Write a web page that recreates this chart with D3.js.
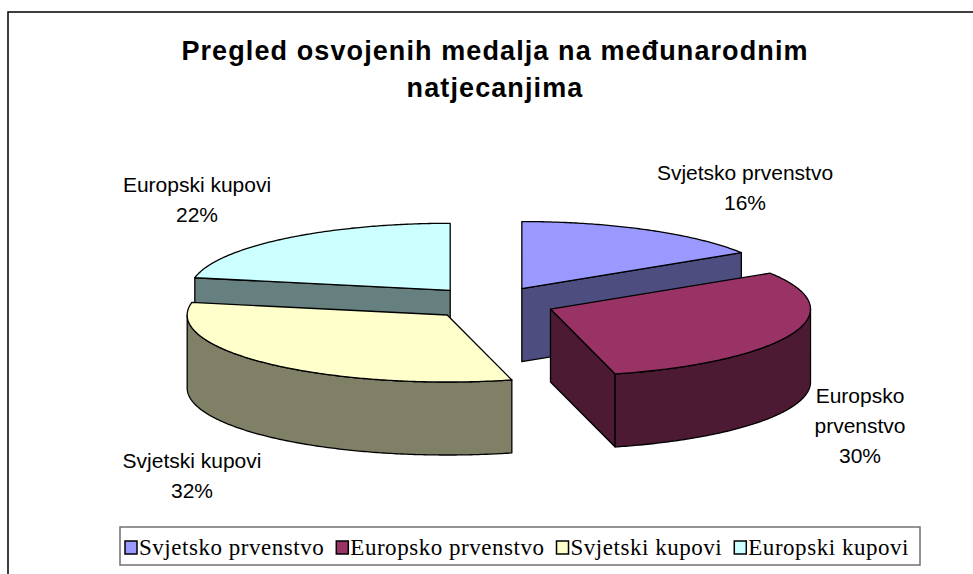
<!DOCTYPE html>
<html>
<head>
<meta charset="utf-8">
<script src="https://cdn.jsdelivr.net/npm/d3@7"></script>
<style>
  body { margin: 0; background: #fff; }
  svg { display: block; }
</style>
</head>
<body>
<div id="chart"></div>
<script>
// data
const categories = ["Svjetsko prvenstvo", "Europsko prvenstvo", "Svjetski kupovi", "Europski kupovi"];
const values = [16, 30, 32, 22];
const topColors = ["#9999FF", "#993366", "#FFFFCC", "#CCFFFF"];
const sideColors = ["#4D4D80", "#4D1A33", "#808066", "#668080"];
const titleLines = ["Pregled osvojenih medalja na međunarodnim", "natjecanjima"];
const labelLines = [["Svjetsko prvenstvo"], ["Europsko", "prvenstvo"], ["Svjetski kupovi"], ["Europski kupovi"]];

const width = 973, height = 574;
const sans = "'Liberation Sans', Arial, sans-serif";
const serif = "'Liberation Serif', 'Times New Roman', serif";

const svg = d3.select("#chart").append("svg")
    .attr("width", width)
    .attr("height", height);

// chart frame (right and bottom edges run off the picture)
svg.append("rect")
    .attr("x", 8).attr("y", 12)
    .attr("width", width + 20).attr("height", height)
    .attr("fill", "#fff")
    .attr("stroke", "#000")
    .attr("stroke-width", 1.5);

// title
const title = svg.append("g");
titleLines.forEach((t, i) => {
    title.append("text")
        .attr("x", 495)
        .attr("y", 60 + i * 37)
        .attr("text-anchor", "middle")
        .style("font-family", sans)
        .style("font-weight", "bold")
        .style("font-size", "27px")
        .style("letter-spacing", "1.1px")
        .text(t);
});

// 3d pie
const cx = 491, cy = 303, rx = 260, ry = 67, depth = 73, explode = 64;
const k = ry / rx;

const arcs = d3.pie().sort(null).value(d => d)(values);
const total = d3.sum(values);

function pt(c, a, r) {
    return [c[0] + r * Math.sin(a), c[1] - r * Math.cos(a) * k];
}

function arcPoints(c, a0, a1) {
    const n = Math.max(2, Math.ceil((a1 - a0) / 0.01));
    return d3.range(n + 1).map(i => pt(c, a0 + (a1 - a0) * i / n, rx));
}

const line = d3.line();
const down = p => [p[0], p[1] + depth];

// back slices first
const order = arcs.map((d, i) => i)
    .sort((a, b) => {
        const ma = (arcs[a].startAngle + arcs[a].endAngle) / 2;
        const mb = (arcs[b].startAngle + arcs[b].endAngle) / 2;
        return Math.cos(mb) - Math.cos(ma);
    });

const pieG = svg.append("g")
    .attr("stroke", "#000")
    .attr("stroke-width", 1.3)
    .attr("stroke-linejoin", "round");

order.forEach(i => {
    const d = arcs[i];
    const a0 = d.startAngle, a1 = d.endAngle;
    const mid = (a0 + a1) / 2;
    const c = pt([cx, cy], mid, explode);
    const g = pieG.append("g");

    // radial faces facing the viewer
    [[a0, Math.sin(a0) < -1e-6], [a1, Math.sin(a1) > 1e-6]].forEach(([a, vis]) => {
        if (!vis) return;
        const p = pt(c, a, rx);
        g.append("path")
            .attr("d", line([c, p, down(p), down(c)]) + "Z")
            .attr("fill", sideColors[i]);
    });

    // outer wall, front half only
    const s0 = Math.max(a0, Math.PI / 2), s1 = Math.min(a1, Math.PI * 1.5);
    if (s1 > s0) {
        const topEdge = arcPoints(c, s0, s1);
        const pts = topEdge.concat(topEdge.slice().reverse().map(down));
        g.append("path")
            .attr("d", line(pts) + "Z")
            .attr("fill", sideColors[i]);
    }

    // top face
    g.append("path")
        .attr("d", line([c].concat(arcPoints(c, a0, a1))) + "Z")
        .attr("fill", topColors[i]);
});

// data labels
const labelPos = [[745, 180], [860, 403], [192, 468], [197, 192]];
const labels = svg.append("g")
    .style("font-family", sans)
    .style("font-size", "21px")
    .attr("fill", "#000")
    .attr("text-anchor", "middle");

values.forEach((v, i) => {
    const lines = labelLines[i].concat([Math.round(v / total * 100) + "%"]);
    const t = labels.append("text")
        .attr("x", labelPos[i][0])
        .attr("y", labelPos[i][1]);
    lines.forEach((l, j) => {
        t.append("tspan")
            .attr("x", labelPos[i][0])
            .attr("dy", j === 0 ? 0 : 30)
            .text(l);
    });
});

// legend
const legend = svg.append("g");
legend.append("rect")
    .attr("x", 120).attr("y", 527)
    .attr("width", 800).attr("height", 38)
    .attr("fill", "#fff")
    .attr("stroke", "#707070")
    .attr("stroke-width", 1.5);

const legendStart = 125, legendEnd = 909, swatch = 12, textGap = 2, itemGap = 12;
const legendTexts = categories.map(name => legend.append("text")
    .attr("y", 555)
    .style("font-family", serif)
    .style("font-size", "23px")
    .attr("fill", "#000")
    .text(name));
const natural = d3.sum(legendTexts, t => t.node().getComputedTextLength());
const nChars = d3.sum(categories, c => c.length);
const room = legendEnd - legendStart - categories.length * (swatch + textGap) - (categories.length - 1) * itemGap;
const spacing = Math.max(0, (room - natural) / nChars);
legendTexts.forEach(t => t.style("letter-spacing", spacing + "px"));

let lx = legendStart;
categories.forEach((name, i) => {
    legend.append("rect")
        .attr("x", lx).attr("y", 541)
        .attr("width", swatch).attr("height", swatch + 1)
        .attr("fill", topColors[i])
        .attr("stroke", "#000")
        .attr("stroke-width", 1.5);
    const t = legendTexts[i].attr("x", lx + swatch + textGap);
    lx += swatch + textGap + t.node().getComputedTextLength() + itemGap;
});
</script>
</body>
</html>
